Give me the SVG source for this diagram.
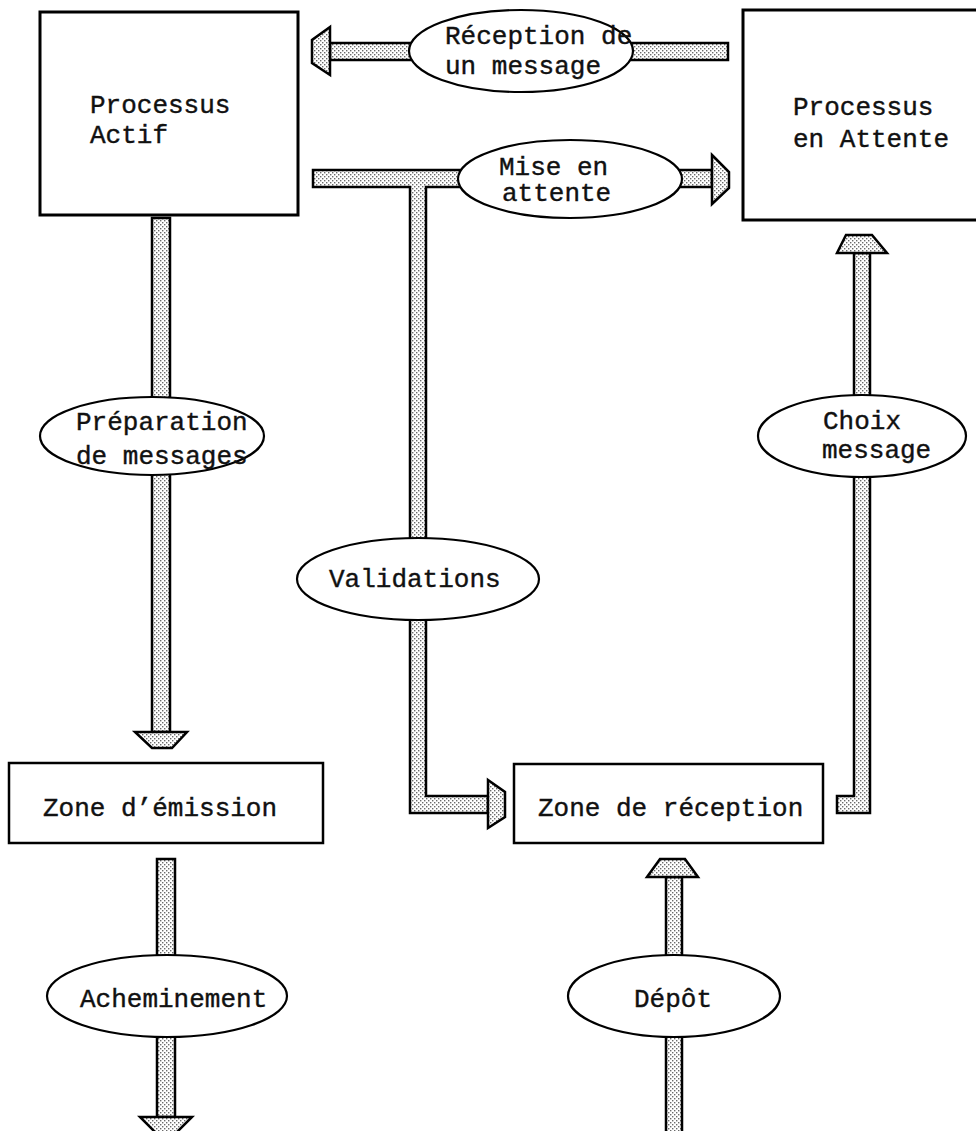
<svg xmlns="http://www.w3.org/2000/svg" width="976" height="1131" viewBox="0 0 976 1131">
  <defs>
    <!-- stippled grey fill used for the wide arrows -->
    <pattern id="stipple" width="4" height="4" patternUnits="userSpaceOnUse">
      <rect width="4" height="4" fill="#ffffff"/>
      <rect x="0" y="0" width="1.4" height="1.4" fill="#6a6a6a"/>
      <rect x="2" y="2" width="1.4" height="1.4" fill="#6a6a6a"/>
    </pattern>
    <style>
      .box { fill: #ffffff; stroke: #000000; stroke-width: 3; }
      .zone { fill: #ffffff; stroke: #000000; stroke-width: 2.5; }
      .bar { fill: url(#stipple); stroke: #000000; stroke-width: 2.5; stroke-linejoin: miter; }
      .oval { fill: #ffffff; stroke: #000000; stroke-width: 2.2; }
      .lbl { font-family: "Liberation Mono", "Courier New", monospace; font-size: 26px; fill: #111111; stroke: #111111; stroke-width: 0.4; }
    </style>
  </defs>

  <!-- wide shaded arrows -->
  <g id="connectors">
    <!-- Reception d'un message: right to left -->
    <rect class="bar" x="330" y="43" width="398" height="17"/>
    <polygon class="bar" points="330,27 312,40 312,63 330,75"/>

    <!-- Mise en attente: left to right, with branch down to the reception zone -->
    <path class="bar" d="M313,170 H712 V187 H426 V796 H488 V813 H410 V187 H313 Z"/>
    <polygon class="bar" points="712,155 729,172 729,188 712,204"/>
    <polygon class="bar" points="488,780 505,792 505,817 488,828"/>

    <!-- Preparation de messages: Actif down to zone d'emission -->
    <rect class="bar" x="152" y="218" width="18" height="514"/>
    <polygon class="bar" points="135,732 187,732 172,748 152,748"/>

    <!-- Acheminement: out of zone d'emission -->
    <rect class="bar" x="157" y="859" width="18" height="258"/>
    <polygon class="bar" points="140,1117 192,1117 175,1134 157,1134"/>

    <!-- Depot: into zone de reception -->
    <rect class="bar" x="666" y="877" width="16" height="260"/>
    <polygon class="bar" points="647,877 698,877 685,859 660,859"/>

    <!-- Choix message: zone de reception up to En Attente -->
    <path class="bar" d="M854,253 H870 V813 H837 V796 H854 Z"/>
    <polygon class="bar" points="837,253 887,253 872,235 846,235"/>
  </g>

  <g id="processus-actif">
    <rect class="box" x="40" y="12" width="258" height="203"/>
    <text class="lbl" x="90" y="113">Processus</text>
    <text class="lbl" x="90" y="143">Actif</text>
  </g>

  <g id="processus-attente">
    <rect class="box" x="743" y="10" width="250" height="210"/>
    <text class="lbl" x="793" y="115">Processus</text>
    <text class="lbl" x="793" y="147">en Attente</text>
  </g>

  <g id="zone-emission">
    <rect class="zone" x="9" y="763" width="314" height="80"/>
    <text class="lbl" x="43" y="816">Zone d’émission</text>
  </g>

  <g id="zone-reception">
    <rect class="zone" x="514" y="764" width="309" height="79"/>
    <text class="lbl" x="538" y="816">Zone de réception</text>
  </g>

  <g id="reception-message">
    <ellipse class="oval" cx="521" cy="51" rx="112" ry="41"/>
    <text class="lbl" x="445" y="44">Réception de</text>
    <text class="lbl" x="445" y="74">un message</text>
  </g>

  <g id="mise-en-attente">
    <ellipse class="oval" cx="570" cy="179" rx="112" ry="39"/>
    <text class="lbl" x="499" y="175">Mise en</text>
    <text class="lbl" x="502" y="201">attente</text>
  </g>

  <g id="preparation">
    <ellipse class="oval" cx="152" cy="436" rx="112" ry="39"/>
    <text class="lbl" x="76" y="430">Préparation</text>
    <text class="lbl" x="76" y="464">de messages</text>
  </g>

  <g id="validations">
    <ellipse class="oval" cx="418" cy="579" rx="121" ry="41"/>
    <text class="lbl" x="329" y="587">Validations</text>
  </g>

  <g id="choix-message">
    <ellipse class="oval" cx="862" cy="436" rx="104" ry="41"/>
    <text class="lbl" x="823" y="429">Choix</text>
    <text class="lbl" x="822" y="458">message</text>
  </g>

  <g id="acheminement">
    <ellipse class="oval" cx="167" cy="996" rx="120" ry="41"/>
    <text class="lbl" x="80" y="1007">Acheminement</text>
  </g>

  <g id="depot">
    <ellipse class="oval" cx="674" cy="996" rx="106" ry="41"/>
    <text class="lbl" x="634" y="1007">Dépôt</text>
  </g>
</svg>
